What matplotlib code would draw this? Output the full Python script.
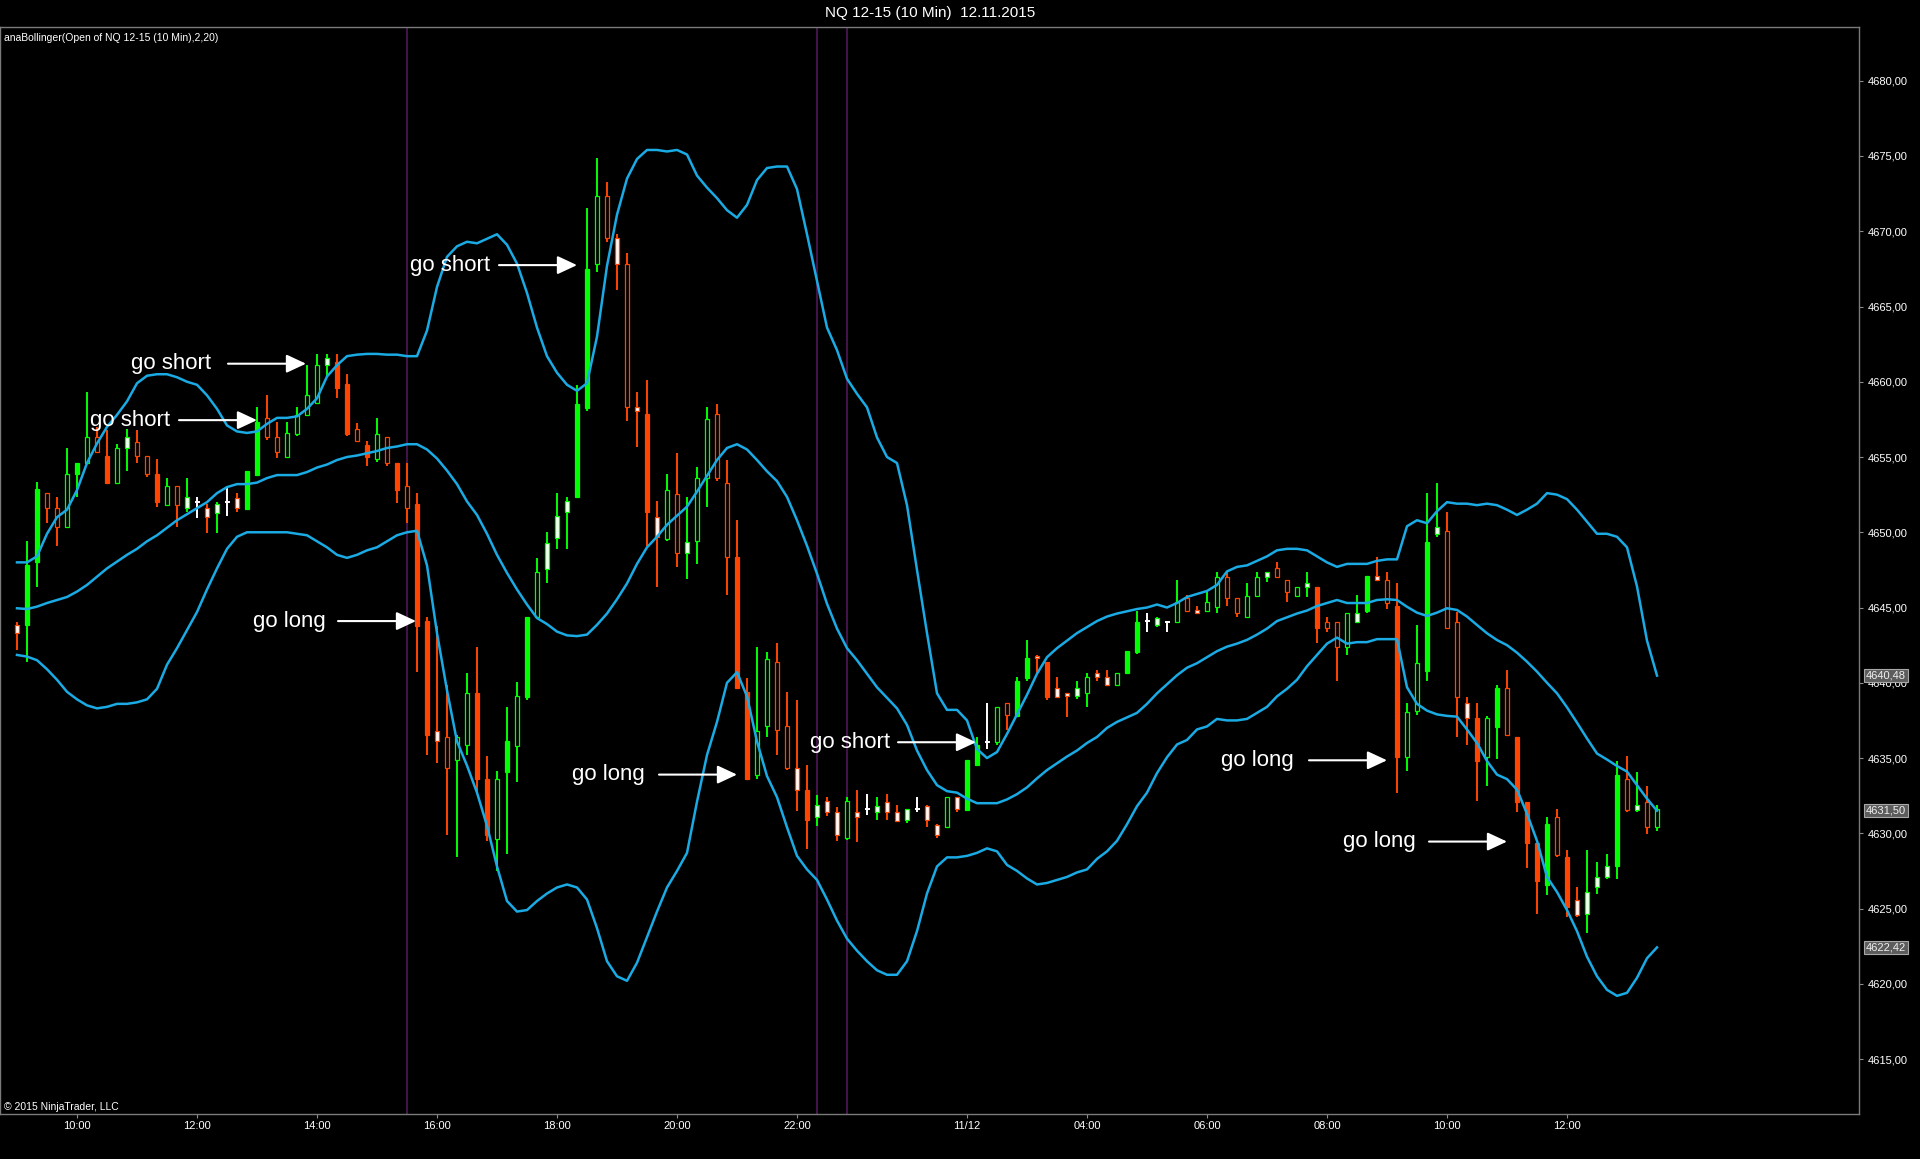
import numpy as np
import matplotlib.pyplot as plt

plt.rcParams['font.family'] = ['Liberation Sans', 'DejaVu Sans']

# 10 minute bars, NQ 12-15 (index = bar number)
opens = [4643.84, 4643.85, 4648.05, 4652.59, 4651.60, 4650.33, 4653.85, 4654.58, 4656.31, 4655.07,
         4653.30, 4655.58, 4656.00, 4655.07, 4653.88, 4651.82, 4653.08, 4651.60, 4652.04, 4651.60,
         4651.30, 4652.04, 4652.30, 4651.55, 4653.81, 4657.57, 4656.31, 4655.03, 4656.56, 4657.82,
         4658.58, 4661.11, 4661.30, 4659.83, 4656.84, 4655.80, 4654.85, 4656.32, 4654.61, 4653.07,
         4651.88, 4644.10, 4636.80, 4636.38, 4634.84, 4635.84, 4639.35, 4633.59, 4629.62, 4634.06,
         4635.80, 4639.04, 4644.34, 4647.59, 4649.63, 4651.34, 4652.36, 4658.23, 4667.82, 4672.31,
         4669.52, 4667.82, 4658.33, 4657.83, 4651.03, 4649.57, 4652.57, 4648.65, 4649.42, 4653.60,
         4657.83, 4653.28, 4648.34, 4639.37, 4633.89, 4637.11, 4641.38, 4637.11, 4634.32, 4632.87,
         4631.11, 4632.16, 4631.42, 4629.68, 4631.39, 4631.59, 4631.39, 4632.10, 4631.39, 4630.88,
         4631.59, 4631.83, 4630.55, 4630.40, 4632.39, 4631.55, 4634.54, 4636.09, 4636.09, 4638.63,
         4637.79, 4640.30, 4641.80, 4641.36, 4639.63, 4639.34, 4639.12, 4639.34, 4640.63, 4640.36,
         4639.85, 4640.63, 4642.07, 4644.13, 4643.84, 4644.07, 4644.07, 4645.62, 4644.84, 4644.80,
         4645.06, 4647.05, 4645.62, 4644.35, 4645.79, 4647.05, 4647.61, 4646.83, 4645.79, 4646.35,
         4646.35, 4644.07, 4644.07, 4642.36, 4644.07, 4644.80, 4647.10, 4646.83, 4645.11, 4635.09,
         4638.15, 4640.81, 4649.89, 4650.09, 4644.06, 4638.64, 4637.64, 4635.09, 4637.09, 4639.63,
         4636.38, 4632.10, 4629.38, 4626.56, 4631.11, 4628.40, 4625.57, 4624.64, 4626.45, 4627.12,
         4627.83, 4633.59, 4631.55, 4632.10, 4630.40]
highs = [4644.06, 4649.40, 4653.37, 4652.59, 4652.33, 4655.63, 4654.58, 4659.35, 4657.02, 4656.80,
         4655.87, 4656.84, 4656.80, 4655.07, 4654.85, 4653.59, 4653.08, 4653.63, 4652.37, 4651.86,
         4652.04, 4653.08, 4652.59, 4654.08, 4658.35, 4659.13, 4657.35, 4657.35, 4658.34, 4661.11,
         4661.83, 4661.83, 4661.83, 4660.54, 4657.27, 4656.04, 4657.58, 4656.32, 4654.61, 4654.61,
         4652.60, 4644.34, 4643.74, 4639.83, 4636.55, 4640.66, 4642.37, 4635.13, 4634.13, 4638.40,
         4640.07, 4644.34, 4648.32, 4650.03, 4652.60, 4652.33, 4659.78, 4671.53, 4674.84, 4673.30,
         4669.83, 4668.53, 4659.32, 4660.09, 4652.05, 4653.84, 4655.29, 4652.36, 4654.31, 4658.33,
         4658.54, 4654.83, 4650.81, 4640.29, 4642.37, 4642.06, 4642.61, 4639.37, 4638.84, 4634.57,
         4632.56, 4632.41, 4631.73, 4632.41, 4632.90, 4632.61, 4632.39, 4632.61, 4631.88, 4631.59,
         4632.39, 4631.88, 4630.62, 4632.39, 4632.43, 4634.87, 4636.38, 4638.68, 4638.41, 4638.68,
         4640.36, 4642.84, 4641.85, 4641.40, 4640.36, 4639.34, 4640.12, 4640.63, 4640.85, 4640.85,
         4640.63, 4642.12, 4644.80, 4644.62, 4644.35, 4644.13, 4646.83, 4645.84, 4645.11, 4646.06,
         4647.34, 4647.34, 4645.62, 4646.61, 4647.34, 4647.34, 4648.05, 4646.83, 4646.35, 4647.34,
         4646.35, 4644.35, 4644.07, 4644.62, 4645.84, 4647.10, 4648.38, 4647.39, 4646.61, 4638.68,
         4643.84, 4652.59, 4653.30, 4651.37, 4644.73, 4639.08, 4638.64, 4637.80, 4639.85, 4640.85,
         4636.38, 4632.10, 4629.38, 4631.11, 4631.59, 4628.89, 4626.41, 4628.89, 4628.12, 4628.63,
         4634.83, 4635.14, 4634.09, 4633.14, 4631.88]
lows = [4642.20, 4641.40, 4646.39, 4650.64, 4649.10, 4650.33, 4652.37, 4654.58, 4655.32, 4653.30,
        4653.30, 4654.10, 4654.63, 4653.65, 4651.66, 4651.82, 4650.38, 4651.37, 4650.93, 4649.93,
        4649.93, 4651.08, 4651.37, 4651.55, 4653.81, 4656.14, 4654.92, 4654.98, 4656.37, 4657.82,
        4658.58, 4660.35, 4658.93, 4656.37, 4656.04, 4654.37, 4654.66, 4654.37, 4651.93, 4650.63,
        4640.71, 4635.20, 4634.66, 4629.91, 4628.44, 4635.20, 4632.64, 4629.46, 4627.50, 4628.60,
        4633.42, 4638.88, 4644.34, 4646.64, 4648.92, 4648.92, 4652.36, 4658.08, 4667.30, 4669.28,
        4666.12, 4657.40, 4655.67, 4649.11, 4646.39, 4649.42, 4647.66, 4646.88, 4647.87, 4651.65,
        4653.38, 4645.86, 4639.68, 4633.58, 4633.64, 4636.43, 4635.19, 4634.20, 4631.48, 4628.94,
        4630.49, 4631.17, 4629.47, 4629.56, 4629.44, 4631.21, 4630.88, 4630.88, 4630.84, 4630.66,
        4631.44, 4630.44, 4629.66, 4630.40, 4631.44, 4631.55, 4634.54, 4635.58, 4635.87, 4636.86,
        4637.79, 4640.14, 4640.67, 4638.86, 4639.08, 4637.70, 4638.90, 4638.41, 4640.14, 4639.85,
        4639.85, 4640.63, 4641.92, 4643.40, 4643.69, 4643.40, 4644.07, 4644.80, 4644.62, 4644.80,
        4644.66, 4645.11, 4644.40, 4644.35, 4645.79, 4646.68, 4647.05, 4645.40, 4645.79, 4645.68,
        4642.67, 4643.40, 4640.14, 4641.85, 4644.07, 4644.66, 4646.83, 4644.88, 4632.66, 4634.16,
        4637.86, 4640.14, 4649.67, 4643.62, 4636.42, 4635.87, 4632.17, 4633.14, 4634.92, 4636.53,
        4631.44, 4627.67, 4624.64, 4625.90, 4628.45, 4624.42, 4624.42, 4623.40, 4625.97, 4626.94,
        4626.94, 4631.44, 4631.44, 4629.95, 4630.17]
closes = [4643.33, 4647.80, 4652.86, 4651.60, 4650.33, 4653.85, 4654.58, 4656.36, 4655.32, 4653.30,
          4655.58, 4656.31, 4655.07, 4653.88, 4652.04, 4653.08, 4651.82, 4652.33, 4652.04, 4651.04,
          4651.86, 4652.04, 4651.60, 4654.08, 4657.35, 4656.31, 4655.36, 4656.58, 4657.82, 4659.10,
          4661.11, 4661.59, 4659.60, 4656.51, 4656.04, 4655.00, 4656.56, 4654.61, 4652.83, 4651.62,
          4643.79, 4636.55, 4636.15, 4634.37, 4636.38, 4639.35, 4633.59, 4629.86, 4633.59, 4636.15,
          4639.12, 4644.34, 4647.35, 4649.32, 4651.10, 4652.05, 4658.54, 4667.51, 4672.31, 4669.52,
          4667.82, 4658.33, 4658.08, 4651.34, 4649.67, 4652.82, 4648.65, 4649.33, 4653.60, 4657.55,
          4653.60, 4648.34, 4639.68, 4633.58, 4636.80, 4641.59, 4636.83, 4634.32, 4632.87, 4630.86,
          4631.85, 4631.42, 4629.87, 4632.16, 4631.10, 4631.59, 4631.83, 4631.39, 4630.84, 4631.59,
          4631.59, 4630.88, 4629.89, 4632.39, 4631.59, 4634.87, 4635.87, 4636.09, 4638.37, 4637.86,
          4640.12, 4641.62, 4641.62, 4639.08, 4639.08, 4639.12, 4639.63, 4640.36, 4640.36, 4639.85,
          4640.63, 4642.12, 4644.07, 4644.13, 4644.31, 4644.07, 4645.35, 4644.80, 4644.62, 4645.35,
          4647.05, 4645.62, 4644.62, 4645.79, 4647.05, 4647.34, 4647.05, 4646.06, 4646.35, 4646.61,
          4643.62, 4643.62, 4642.36, 4644.62, 4644.62, 4647.10, 4646.83, 4645.33, 4635.09, 4638.09,
          4641.34, 4649.38, 4650.33, 4643.62, 4639.08, 4637.64, 4634.83, 4637.64, 4639.63, 4636.53,
          4632.10, 4629.38, 4626.85, 4630.62, 4628.56, 4625.13, 4624.57, 4626.12, 4627.12, 4627.83,
          4633.87, 4631.55, 4631.88, 4630.40, 4631.59]
# bar look: G/R filled, g/r hollow, wg/wr white body, x white doji
kinds = ("wr G G r r g G g r R g wg r r R g r wg x wr wg x wr G G r r g g g "
         "g wg R R r R g r R r R R wr r g g R R g G g G g wg wg wg G G g r "
         "wr r wr R wr g r wg g g r r R R g g r r wr R wg wr wr g wr x wg wr "
         "wr wg x wr wr g wr G G x g r G G wr R wr wr wg g wr wr g G G x wg x "
         "g r wr g g r r g g wg r r g wg R r r g wg G wr r R g g G wg r r wr "
         "R g G r R R R G r R wr wg wg wg G r wg r g").split()

# anaBollinger(Open, 2, 20) as plotted
bb_upper = [4648.0, 4648.0, 4648.4, 4649.9, 4651.0, 4651.5, 4652.8, 4654.6, 4655.9, 4657.0,
            4657.8, 4658.7, 4659.9, 4660.4, 4660.5, 4660.5, 4660.3, 4660.0, 4659.8, 4659.1,
            4658.2, 4657.1, 4656.7, 4656.6, 4656.7, 4657.2, 4657.6, 4657.6, 4657.7, 4658.2,
            4658.9, 4660.35, 4661.1, 4661.7, 4661.8, 4661.85, 4661.85, 4661.8, 4661.8, 4661.7,
            4661.7, 4663.4, 4666.3, 4668.3, 4669.0, 4669.3, 4669.2, 4669.5, 4669.8, 4669.1,
            4667.85, 4665.9, 4663.6, 4661.7, 4660.6, 4659.8, 4659.4, 4659.9, 4663.0, 4667.7,
            4671.1, 4673.5, 4674.8, 4675.4, 4675.4, 4675.3, 4675.4, 4675.1, 4673.7, 4672.9,
            4672.2, 4671.4, 4670.9, 4671.75, 4673.4, 4674.2, 4674.3, 4674.3, 4672.8, 4669.8,
            4666.7, 4663.6, 4662.1, 4660.2, 4659.2, 4658.3, 4656.3, 4655.0, 4654.6, 4651.8,
            4647.5, 4643.3, 4639.3, 4638.2, 4638.2, 4637.5, 4635.6, 4635.0, 4635.4, 4636.6,
            4637.9, 4639.2, 4640.6, 4641.7, 4642.3, 4642.8, 4643.3, 4643.7, 4644.1, 4644.4,
            4644.6, 4644.75, 4644.9, 4645.0, 4645.2, 4645.0, 4645.3, 4645.7, 4645.9, 4646.1,
            4646.5, 4647.4, 4647.7, 4647.8, 4648.1, 4648.4, 4648.8, 4648.9, 4648.9, 4648.8,
            4648.4, 4648.0, 4647.7, 4647.9, 4647.9, 4647.9, 4648.1, 4648.2, 4648.2, 4650.4,
            4650.8, 4650.6, 4651.4, 4652.0, 4651.9, 4651.9, 4651.8, 4651.9, 4651.8, 4651.5,
            4651.15, 4651.5, 4651.9, 4652.6, 4652.5, 4652.2, 4651.5, 4650.7, 4649.9, 4649.9,
            4649.7, 4649.0, 4646.4, 4642.8, 4640.48]
bb_middle = [4644.95, 4644.9, 4645.06, 4645.3, 4645.5, 4645.7, 4646.06, 4646.5, 4647.05, 4647.6,
             4648.05, 4648.5, 4648.9, 4649.4, 4649.8, 4650.3, 4650.8, 4651.2, 4651.6, 4652.0,
             4652.6, 4653.0, 4653.2, 4653.2, 4653.3, 4653.6, 4653.8, 4653.8, 4653.8, 4654.0,
             4654.3, 4654.5, 4654.8, 4655.0, 4655.1, 4655.25, 4655.4, 4655.6, 4655.7, 4655.85,
             4655.85, 4655.5, 4654.9, 4654.1, 4653.2, 4652.05, 4651.15, 4649.9, 4648.5, 4647.3,
             4646.2, 4645.2, 4644.3, 4643.9, 4643.4, 4643.15, 4643.1, 4643.2, 4643.85, 4644.6,
             4645.55, 4646.6, 4647.9, 4649.0, 4649.7, 4650.5, 4651.1, 4651.7, 4652.7, 4653.75,
             4654.8, 4655.6, 4655.85, 4655.5, 4654.8, 4654.05, 4653.4, 4652.35, 4650.8, 4649.1,
             4647.25, 4645.25, 4643.6, 4642.3, 4641.5, 4640.6, 4639.7, 4639.0, 4638.3, 4637.2,
             4635.5, 4634.2, 4633.2, 4632.8, 4632.7, 4632.3, 4632.0, 4632.0, 4632.0, 4632.25,
             4632.6, 4633.05, 4633.65, 4634.2, 4634.65, 4635.1, 4635.5, 4636.0, 4636.4, 4637.0,
             4637.4, 4637.7, 4638.0, 4638.6, 4639.3, 4639.9, 4640.5, 4641.0, 4641.3, 4641.7,
             4642.1, 4642.4, 4642.6, 4642.85, 4643.2, 4643.6, 4644.1, 4644.35, 4644.6, 4644.8,
             4645.1, 4645.3, 4645.5, 4645.3, 4645.3, 4645.3, 4645.5, 4645.55, 4645.5, 4645.05,
             4644.66, 4644.44, 4644.66, 4644.95, 4644.84, 4644.4, 4643.84, 4643.29, 4642.84, 4642.5,
             4642.0, 4641.4, 4640.74, 4640.0, 4639.3, 4638.37, 4637.35, 4636.3, 4635.3, 4634.9,
             4634.47, 4634.1, 4633.2, 4632.3, 4631.50]
bb_lower = [4641.85, 4641.74, 4641.5, 4640.9, 4640.2, 4639.4, 4638.9, 4638.5, 4638.3, 4638.4,
            4638.6, 4638.6, 4638.7, 4638.9, 4639.6, 4641.2, 4642.3, 4643.5, 4644.7, 4646.2,
            4647.6, 4648.9, 4649.7, 4650.0, 4650.0, 4650.0, 4650.0, 4650.0, 4649.9, 4649.8,
            4649.4, 4649.0, 4648.5, 4648.3, 4648.5, 4648.8, 4649.0, 4649.4, 4649.8, 4650.0,
            4650.1, 4647.8, 4643.3, 4639.5, 4636.1, 4634.5, 4632.7, 4630.5, 4627.8, 4625.5,
            4624.8, 4624.9, 4625.5, 4626.0, 4626.4, 4626.6, 4626.4, 4625.6, 4623.7, 4621.5,
            4620.5, 4620.2, 4621.4, 4623.1, 4624.8, 4626.4, 4627.5, 4628.7, 4632.1, 4635.2,
            4637.4, 4640.0, 4640.7, 4639.1, 4636.1, 4633.8, 4632.4, 4630.4, 4628.5, 4627.6,
            4626.9, 4625.6, 4624.2, 4623.0, 4622.2, 4621.5, 4620.9, 4620.6, 4620.6, 4621.5,
            4623.5, 4626.0, 4627.8, 4628.4, 4628.4, 4628.5, 4628.7, 4629.0, 4628.8, 4627.9,
            4627.5, 4627.0, 4626.6, 4626.7, 4626.9, 4627.1, 4627.4, 4627.6, 4628.3, 4628.8,
            4629.5, 4630.6, 4631.8, 4632.7, 4634.0, 4635.05, 4635.9, 4636.2, 4636.9, 4637.1,
            4637.6, 4637.5, 4637.5, 4637.6, 4638.0, 4638.4, 4639.1, 4639.6, 4640.2, 4641.1,
            4641.85, 4642.6, 4643.0, 4642.6, 4642.7, 4642.7, 4642.9, 4642.9, 4642.9, 4639.7,
            4638.6, 4638.15, 4637.9, 4637.8, 4637.75, 4636.9, 4636.0, 4634.8, 4633.9, 4633.6,
            4632.9, 4631.3, 4629.5, 4627.1, 4626.1, 4624.9, 4623.5, 4621.8, 4620.5, 4619.6,
            4619.2, 4619.4, 4620.4, 4621.7, 4622.42]

session_breaks = [39, 80, 83]
tick_bars = [6, 18, 30, 42, 54, 66, 78, 95, 107, 119, 131, 143, 155]
tick_labels = ['10:00', '12:00', '14:00', '16:00', '18:00', '20:00', '22:00',
               '11/12', '04:00', '06:00', '08:00', '10:00', '12:00']
price_ticks = np.arange(4615, 4681, 5)

# signals: label, text right edge (bar), arrow tip (bar), price
signals = [('go short', 19.4, 28.9, 4661.2),
           ('go short', 15.3, 24.0, 4657.45),
           ('go short', 47.3, 56.0, 4667.75),
           ('go long', 30.9, 39.9, 4644.1),
           ('go long', 62.8, 72.0, 4633.9),
           ('go short', 87.3, 95.9, 4636.05),
           ('go long', 127.7, 137.0, 4634.85),
           ('go long', 139.9, 149.0, 4629.45)]

GREEN = '#00ff00'
RED = '#ff4500'
BAND = '#1aaae4'
look = {'G': (GREEN, GREEN), 'g': (GREEN, 'black'),
        'R': (RED, RED), 'r': (RED, 'black'),
        'wg': (GREEN, 'white'), 'wr': (RED, 'white'),
        'x': ('white', 'white')}

W, H = 1920, 1159
fig = plt.figure(figsize=(W / 100, H / 100), dpi=100, facecolor='black')
ax = fig.add_axes([0, 1 - 1114 / H, 1859 / W, (1114 - 27) / H])
ax.set_facecolor('black')

x = np.arange(len(opens))
o = np.array(opens)
c = np.array(closes)
edges = [look[k][0] for k in kinds]
faces = [look[k][1] for k in kinds]

for b in session_breaks:
    ax.axvline(b, color='#4a1650', lw=1.3, zorder=1)

ax.vlines(x, lows, highs, colors=edges, lw=1.4, zorder=2)
body = np.array([k != 'x' for k in kinds])
ax.bar(x[body], np.abs(c - o)[body], bottom=np.minimum(o, c)[body], width=0.42,
       color=np.array(faces)[body], edgecolor=np.array(edges)[body], linewidth=0.9, zorder=3)
ax.hlines(c[~body], x[~body] - 0.25, x[~body] + 0.25, colors='white', lw=1.4, zorder=3)

for band in (bb_upper, bb_middle, bb_lower):
    ax.plot(x, band, color=BAND, lw=1.8, zorder=4, solid_joinstyle='round')

for label, tx, tip, price in signals:
    ax.annotate('', xy=(tip, price), xytext=(tip - 7.8, price),
                arrowprops=dict(arrowstyle='-|>,head_length=0.6,head_width=0.28',
                                color='white', lw=1.5, mutation_scale=20,
                                shrinkA=0, shrinkB=0), zorder=5)
    ax.text(tx, price, label, color='white', fontsize=16, ha='right',
            va='center', zorder=5)

ax.set_xlim(-1.7, 184.2)
ax.set_ylim(4611.35, 4683.57)

ax.yaxis.tick_right()
ax.set_yticks(price_ticks)
ax.set_yticklabels([f'{v:.2f}'.replace('.', ',') for v in price_ticks])
ax.set_xticks(tick_bars)
ax.set_xticklabels(tick_labels)
ax.tick_params(axis='both', colors='#8c8c8c', labelcolor='white', labelsize=8,
               length=3, pad=2)
ax.tick_params(axis='y', pad=3)
for s in ax.spines.values():
    s.set_color('#7a7a7a')
    s.set_linewidth(1)

# last values of the bands, flagged on the price axis
for band in (bb_upper, bb_middle, bb_lower):
    ax.annotate(f'{band[-1]:.2f}'.replace('.', ','), xy=(1, band[-1]),
                xycoords=('axes fraction', 'data'), xytext=(5, 0),
                textcoords='offset points', ha='left', va='center', fontsize=8,
                color='#f0f0f0', zorder=10, annotation_clip=False,
                bbox=dict(boxstyle='square,pad=0.15', fc='#5c5c5c', ec='#a8a8a8', lw=0.8))

fig.text(930 / W, 1 - 13.5 / H, 'NQ 12-15 (10 Min)  12.11.2015', color='white',
         fontsize=11, ha='center', va='center')
fig.text(4 / W, 1 - 33 / H, 'anaBollinger(Open of NQ 12-15 (10 Min),2,20)',
         color='white', fontsize=7.5, ha='left', va='top')
fig.text(4 / W, 1 - 1107 / H, '\u00a9 2015 NinjaTrader, LLC', color='white',
         fontsize=7.5, ha='left', va='center')

fig.savefig('out.png', dpi=100, facecolor='black')
